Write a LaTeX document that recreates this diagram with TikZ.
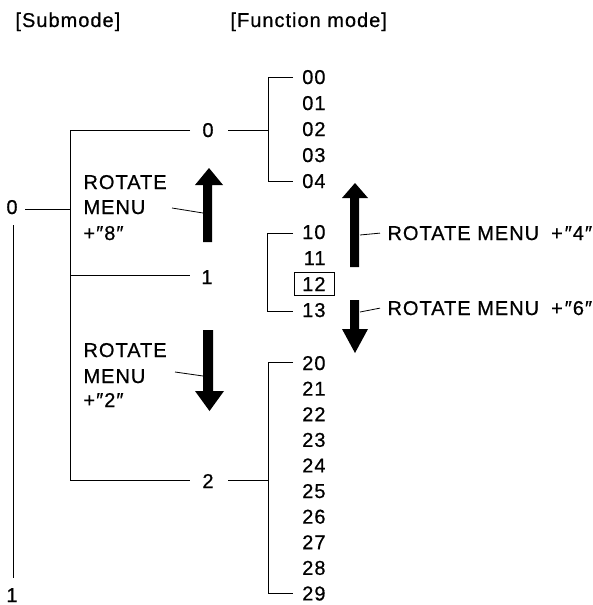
\documentclass[tikz,border=0pt]{standalone}
\usepackage{fontspec}
\setmainfont{Liberation Sans}[LetterSpace=5,FakeBold=0.6]
\begin{document}
\begin{tikzpicture}[x=1pt,y=-1pt,line width=1pt,
  txt/.style={inner sep=0pt,anchor=base,font=\fontsize{20}{24}\selectfont},
  lft/.style={txt,anchor=base west},
  lab/.style={txt,anchor=base east},
  leader/.style={line width=0.8pt}]
\useasboundingbox (0,0) rectangle (593,605);
% titles
\node[lft] (tsub) at (15,27) {[Submode]};
\node[lft] (tfun) at (230,27) {[Function mode]};
% submode column
\node[txt] (s0) at (12,214) {0};
\node[txt] (s1) at (12,602) {1};
\coordinate (j0) at (70,209);
\coordinate (v0) at (13,225);
\coordinate (v1) at (13,578);
\draw (25,209) -- (j0);
\draw (v0) -- (v1);
% main bracket
\node[txt] (m0) at (208,137) {0};
\node[txt] (m1) at (207,284) {1};
\node[txt] (m2) at (208,488) {2};
\coordinate (bt) at (70,130);
\coordinate (bb) at (70,480);
\draw (190,130) -- (bt) -- (bb) -- (190,480);
\draw (70,275) -- (190,275);
\draw (228,130) -- (268,130);
\draw (228,480) -- (268,480);
% function bracket 0x
\draw (293,77) -- (268,77) -- (268,181) -- (293,181);
\node[lab] (f00) at (326,84) {00};
\node[lab] (f01) at (326,110) {01};
\node[lab] (f02) at (326,136) {02};
\node[lab] (f03) at (326,162) {03};
\node[lab] (f04) at (326,188) {04};
% function bracket 1x
\draw (293,233) -- (267,233) -- (267,311) -- (293,311);
\node[lab] (f10) at (326,239) {10};
\node[lab] (f11) at (326,265) {11};
\node[lab] (f12) at (326,291) {12};
\node[lab] (f13) at (326,317) {13};
\node[draw,line width=0.8pt,inner sep=0pt,minimum width=40pt,minimum height=23pt] (box12) at (314,283.5) {};
% function bracket 2x
\draw (293,362) -- (268,362) -- (268,593) -- (293,593);
\foreach \i in {0,...,9}{
  \node[lab] (f2\i) at (326,{370+25.6*\i}) {2\i};
}
% left arrows
\fill (203,242) -- (203,185) -- (195,185) -- (209,168) -- (223,185) -- (212,185) -- (212,242) -- cycle;
\fill (203,330) -- (203,391) -- (195,391) -- (209.5,411) -- (224,391) -- (213,391) -- (213,330) -- cycle;
\coordinate (a8) at (203,213);
\coordinate (a2) at (203,376);
\node[lft] (r8a) at (83,189) {ROTATE};
\node[lft] (r8b) at (83,214) {MENU};
\node[lft] (r8c) at (83,240) {+″8″};
\node[lft] (r2a) at (83,357) {ROTATE};
\node[lft] (r2b) at (83,383) {MENU};
\node[lft] (r2c) at (83,407) {+″2″};
\draw[leader] (172,208) -- (a8);
\draw[leader] (175,372) -- (a2);
% right arrows
\fill (350,267) -- (350,198) -- (342,198) -- (355,183) -- (368,198) -- (359,198) -- (359,267) -- cycle;
\fill (350,300) -- (350,329) -- (342,329) -- (355,353) -- (368,329) -- (359,329) -- (359,300) -- cycle;
\node[lft] (r4) at (387,240) {ROTATE MENU\hspace{12pt}+\hspace{2pt}″4″};
\node[lft] (r6) at (387,315) {ROTATE MENU\hspace{12pt}+\hspace{2pt}″6″};
\coordinate (a4) at (360,235);
\coordinate (a6) at (360,312);
\draw[leader] ([xshift=-7pt]r4.west) -- (a4);
\draw[leader] ([xshift=-7pt]r6.west) -- (a6);
\end{tikzpicture}
\end{document}
